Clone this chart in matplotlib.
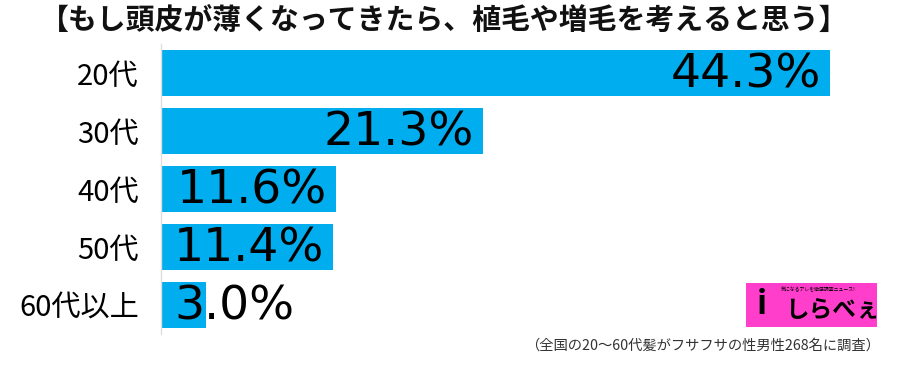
import matplotlib
matplotlib.use("Agg")
import matplotlib.pyplot as plt
from matplotlib.patches import Rectangle

plt.rcParams['font.family'] = ['Noto Sans CJK JP', 'DejaVu Sans']

categories = ["20代", "30代", "40代", "50代", "60代以上"]
values = [44.3, 21.3, 11.6, 11.4, 3.0]
value_labels = ["44.3%", "21.3%", "11.6%", "11.4%", "3.0%"]
title = "【もし頭皮が薄くなってきたら、植毛や増毛を考えると思う】"
note = "（全国の20〜60代髪がフサフサの性男性268名に調査）"

bar_color = "#00AEEF"

fig = plt.figure(figsize=(9, 3.68), dpi=100)
ax = fig.add_axes([161/900, 34/368, 694/900, 290/368])

y = list(range(len(categories)))
ax.barh(y, values, height=0.78, color=bar_color, zorder=2)
ax.set_xlim(0, 694/15.1)
ax.set_ylim(len(categories) - 0.5, -0.5)

for i, (v, lab) in enumerate(zip(values, value_labels)):
    if v > 8:
        ax.text(v - 0.6, i + 0.04, lab, ha='right', va='center', fontsize=34,
                family=['DejaVu Sans'], color='black', zorder=3)
    else:
        ax.text(0.9, i + 0.04, lab, ha='left', va='center', fontsize=34,
                family=['DejaVu Sans'], color='black', zorder=3)

ax.set_yticks(y)
ax.set_yticklabels(categories, fontsize=21)
ax.tick_params(axis='y', length=0, pad=16)
ax.set_xticks([])
for s in ['top', 'right', 'bottom']:
    ax.spines[s].set_visible(False)
ax.spines['left'].set_color('#dddddd')
ax.spines['left'].set_linewidth(1.0)

fig.text(0.494, 0.946, title, ha='center', va='center', fontsize=20.8,
         fontweight='bold', color='#111111')
fig.text(0.978, 0.062, note, ha='right', va='center', fontsize=10.3, color='#333333')

# logo
logo = Rectangle((746/900, 41/368), 131/900, 44/368, transform=fig.transFigure,
                 facecolor='#FF3FCB', edgecolor='none')
fig.patches.append(logo)
fig.text(818/900, 1 - 290/368, "気になるアレを徹底調査ニュース!", ha='center', va='center',
         fontsize=3.5, color='black')
fig.text(832/900, 1 - 310/368, "しらべぇ", ha='center', va='center',
         fontsize=17, fontweight='bold', color='black')
fig.text(762/900, 1 - 304/368, "i", ha='center', va='center',
         fontsize=24, fontweight='bold', color='black')

fig.savefig("out.png", dpi=100, facecolor='white')
